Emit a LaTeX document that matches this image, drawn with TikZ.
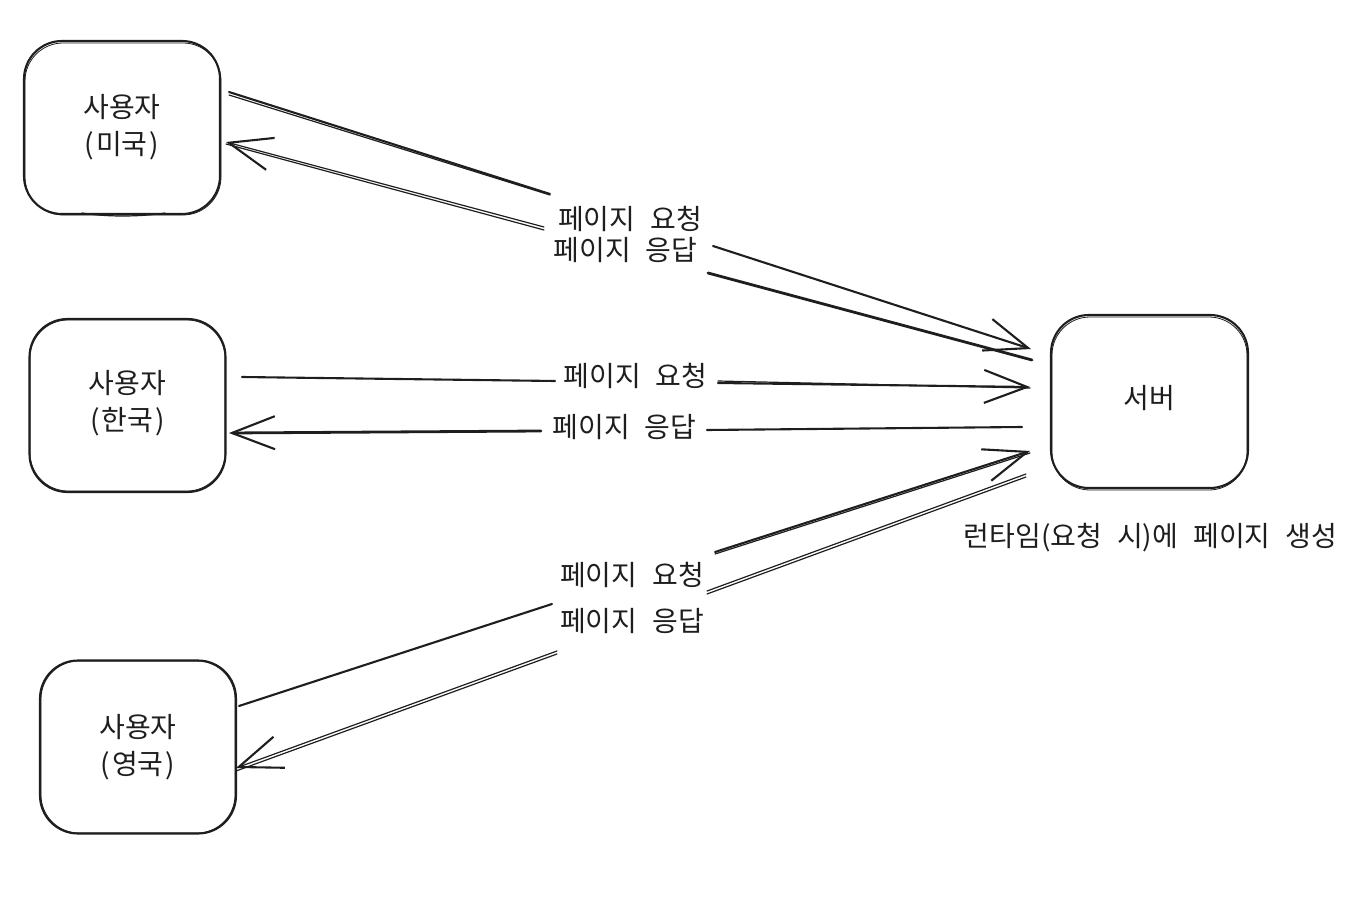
\documentclass[tikz,border=0pt]{standalone}
\usepackage{fontspec}
\setmainfont[WordSpace=2.4]{Noto Sans CJK KR}
\usetikzlibrary{arrows.meta}
\definecolor{ink}{HTML}{1E1E1E}
\newcommand{\wrap}[1]{(\hspace{2pt}#1\hspace{2pt})}
\newcommand{\lift}[1]{\rule[-#1]{0pt}{#1}}
\tikzset{
  userbox/.style={draw=ink,line width=2.1pt,rounded corners=38pt,minimum width=196pt,minimum height=173pt,inner sep=0pt,align=center,text=ink,font=\fontsize{28}{37}\selectfont},
  sketch/.style={draw=ink,line width=0.8pt,rounded corners=38pt},
  lbl/.style={inner sep=0pt,text=ink,font=\fontsize{28}{34}\selectfont},
  conn/.style={draw=ink,line width=2.1pt,line cap=round},
  fine/.style={draw=ink,line width=1.2pt,line cap=round},
  head/.style={-{Straight Barb[length=43pt,width=33pt,line width=2.1pt]}}
}
\begin{document}
\begin{tikzpicture}[x=1pt,y=-1pt]
\useasboundingbox (0,0) rectangle (1366,904);
% boxes
\node[userbox] (us) at (122,127.5) {사용자\\\wrap{미국}};
\node[userbox] (kr) at (127.5,405.5) {사용자\\\wrap{한국}\lift{10pt}};
\node[userbox] (uk) at (138,747) {사용자\\\wrap{영국}};
\node[userbox,minimum width=197pt] (srv) at (1149.5,401.5) {서버\lift{10pt}};
% second sketch strokes of boxes
\draw[sketch] (25,43) rectangle (221,215);
\draw[sketch] (30,320) rectangle (225,491);
\draw[sketch] (41,661) rectangle (235,833);
\draw[sketch] (1052,317) rectangle (1247,490);
\draw[fine] (82,213) .. controls (105,217) and (140,217) .. (165,213);
% labels
\node[lbl] (l1) at (630,219) {페이지 요청};
\node[lbl] (l2) at (625.5,250) {페이지 응답};
\node[lbl] (l3) at (635.5,376) {페이지 요청};
\node[lbl] (l4) at (624.5,427) {페이지 응답};
\node[lbl] (l5) at (632,575) {페이지 요청};
\node[lbl] (l6) at (632,621) {페이지 응답};
\node[lbl] (cap) at (1150.5,538) {런타임(요청 시)에 페이지 생성};
% connector ends
\coordinate (a1) at (229,92);   \coordinate (a2) at (550,194);
\coordinate (a3) at (713,246);  \coordinate (a4) at (1031,349);
\coordinate (b1) at (1032,360); \coordinate (b2) at (708,273);
\coordinate (b3) at (544,230);  \coordinate (b4) at (226,144);
\coordinate (c1) at (242,377);  \coordinate (c2) at (555,381);
\coordinate (c3) at (718,383);  \coordinate (c4) at (1030,387);
\coordinate (d1) at (1022,427); \coordinate (d2) at (707,430);
\coordinate (d3) at (541,431);  \coordinate (d4) at (229,433);
\coordinate (e1) at (239,706);  \coordinate (e2) at (552,604);
\coordinate (e3) at (715,552);  \coordinate (e4) at (1030,451);
\coordinate (f1) at (1026,477); \coordinate (f2) at (707,594);
\coordinate (f3) at (557,651);  \coordinate (f4) at (236,768);
% US
\draw[conn] (a1) -- (a2);
\draw[fine] ([yshift=-3pt]a1) -- ([yshift=-1pt]a2);
\draw[conn,head] (a3) -- (a4);
\draw[conn,line width=2.8pt] (b1) -- (b2);
\draw[fine] (b3) -- (b4);
\draw[fine,head] ([yshift=3pt]b3) -- ([yshift=2pt]b4);
% KR
\draw[conn] (c1) -- (c2);
\draw[conn,head] (c3) -- (c4);
\draw[fine] ([yshift=2pt]c3) -- ([yshift=-1pt]c4);
\draw[conn] (d1) -- (d2);
\draw[conn,line width=2.8pt,head] (d3) -- (d4);
% UK
\draw[conn] (e1) -- (e2);
\draw[conn,head] (e3) -- (e4);
\draw[fine] ([yshift=-2pt]e3) -- ([yshift=-2pt]e4);
\draw[fine] (f1) -- (f2);
\draw[fine] ([yshift=3pt]f1) -- ([yshift=3pt]f2);
\draw[fine,head] (f3) -- (f4);
\draw[fine] ([yshift=-3pt]f3) -- ([yshift=-3pt]f4);
\end{tikzpicture}
\end{document}
